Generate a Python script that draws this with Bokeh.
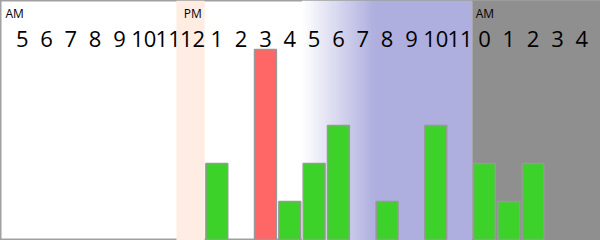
import numpy as np
from bokeh.plotting import figure
from bokeh.models import Range1d, ColumnDataSource
from bokeh.core.properties import value
from bokeh.embed import file_html
from bokeh.resources import INLINE

# Hours of the day, from 5 AM through 4 AM the next morning
hour_labels = ["5", "6", "7", "8", "9", "10", "11", "12", "1", "2", "3", "4",
               "5", "6", "7", "8", "9", "10", "11", "0", "1", "2", "3", "4"]
# Events counted in each hour
counts = [0, 0, 0, 0, 0, 0, 0, 0, 2, 0, 5, 1, 2, 3, 0, 1, 0, 3, 0, 2, 1, 2, 0, 0]
# Meridiem markers and the hour slot where each starts
meridiem_text = ["AM", "PM", "AM"]
meridiem_slot = [0, 7, 19]

# Day-phase slots (column indices)
noon_slot = 7
dusk_start, dusk_end = 12, 15
night_start, midnight = 15, 19

W, H = 600, 240
col_w = 24.33          # pixels per hour column
left_pad = 9.5         # pixels before the first column
px_per_unit = 38.0     # pixels per count
base_px = 1.0          # pixels below the baseline

x0 = -left_pad / col_w
x1 = (W - left_pad) / col_w
y0 = -base_px / px_per_unit
y1 = (H - base_px) / px_per_unit

p = figure(width=W, height=H, output_backend="svg", toolbar_location=None,
           x_range=Range1d(x0, x1), y_range=Range1d(y0, y1),
           x_axis_location=None, y_axis_location=None, min_border=0,
           background_fill_color="white", border_fill_color="white")
p.grid.visible = False
p.outline_line_color = "#a0a0a0"
p.outline_line_width = 2

# Noon band
p.quad(left=noon_slot - 0.16, right=noon_slot + 1, bottom=y0, top=y1,
       fill_color="#ffece2", line_color=None)

# Dusk: white fading into evening blue
blue = np.array([174, 174, 223])
n = 200
t = np.linspace(0, 1, n)
img = np.zeros((1, n), dtype=np.uint32)
view = img.view(dtype=np.uint8).reshape((1, n, 4))
for k in range(3):
    view[0, :, k] = np.round(255 + (blue[k] - 255) * t).astype(np.uint8)
view[0, :, 3] = 255
p.image_rgba(image=[img], x=dusk_start, y=y0, dw=dusk_end - dusk_start, dh=y1 - y0)

# Evening band
p.quad(left=night_start, right=midnight, bottom=y0, top=y1,
       fill_color="#aeaedf", line_color=None)
# After midnight
p.quad(left=midnight, right=x1, bottom=y0, top=y1,
       fill_color="#8f8f8f", line_color=None)

# Bars
peak = max(counts)
idx = [i for i, c in enumerate(counts) if c > 0]
bars = ColumnDataSource(dict(
    x=[i + 0.5 for i in idx],
    top=[counts[i] for i in idx],
    color=["#ff6666" if counts[i] == peak else "#3cd22a" for i in idx],
))
p.vbar(x="x", top="top", bottom=0, width=0.9, source=bars,
       fill_color="color", line_color="#999999", line_width=1.5)

# Hour labels
digit_base = (H - base_px - 38) / px_per_unit
p.text(x=[i + 0.5 for i in range(len(hour_labels))], y=[digit_base] * len(hour_labels),
       text=hour_labels, text_align="center", text_baseline="alphabetic",
       text_font=value("Open Sans"), text_font_size="22px", text_color="#000000")

# AM / PM markers
mer_base = (H - base_px - 13.3) / px_per_unit
mer_x = [(x0 + 5 / col_w) if s == 0 else s + 0.14 for s in meridiem_slot]
p.text(x=mer_x, y=[mer_base] * len(mer_x), text=meridiem_text,
       text_align="left", text_baseline="alphabetic",
       text_font=value("Open Sans"), text_font_size="12px", text_color="#000000")

open("out.html", "w").write(file_html(p, INLINE))
